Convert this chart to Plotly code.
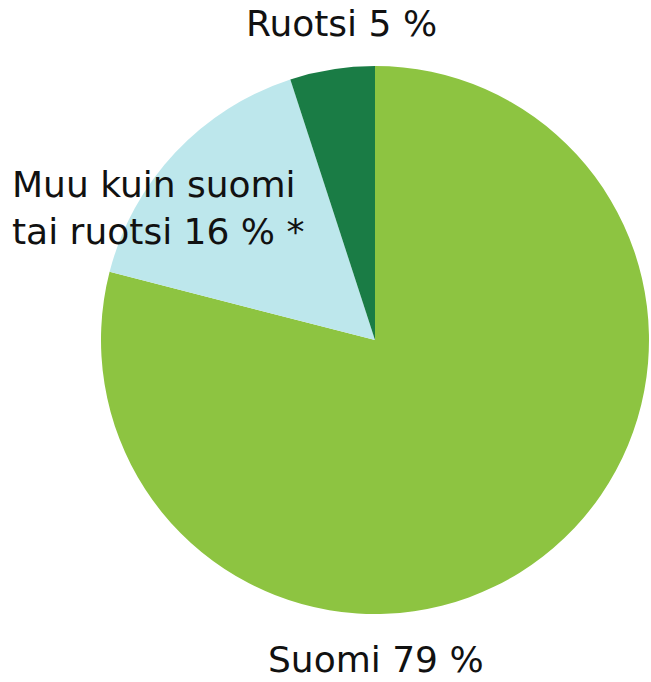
import plotly.graph_objects as go

labels = ["Suomi", "Muu kuin suomi tai ruotsi", "Ruotsi"]
values = [79, 16, 5]
colors = ["#8DC441", "#BDE7EC", "#1A7C45"]

W, H = 651, 682
cx, cy, r = 375, 340, 274

fig = go.Figure(go.Pie(
    labels=labels, values=values, sort=False, direction="clockwise", rotation=0,
    marker=dict(colors=colors, line=dict(width=0)),
    textinfo="none", hoverinfo="label+percent", showlegend=False,
    domain=dict(x=[(cx - r) / W, (cx + r) / W], y=[(H - cy - r) / H, (H - cy + r) / H]),
))

font = dict(family="DejaVu Sans", size=36, color="#111111")
ann = [
    dict(text=f"{labels[2]} {values[2]} %", x=342 / W, y=1 - 24 / H, xanchor="center", yanchor="middle"),
    dict(text=f"Muu kuin suomi<br>tai ruotsi {values[1]} % *", x=10 / W, y=1 - 208 / H, xanchor="left", yanchor="middle", align="left"),
    dict(text=f"{labels[0]} {values[0]} %", x=376 / W, y=1 - 659 / H, xanchor="center", yanchor="middle"),
]
for a in ann:
    a.update(xref="paper", yref="paper", showarrow=False, font=font)

fig.update_layout(width=W, height=H, margin=dict(l=0, r=0, t=0, b=0),
                  paper_bgcolor="white", plot_bgcolor="white", annotations=ann)
fig.write_html("out.html", config={"displayModeBar": False},
               post_script="document.body.style.margin='0';document.body.style.overflow='hidden';")
